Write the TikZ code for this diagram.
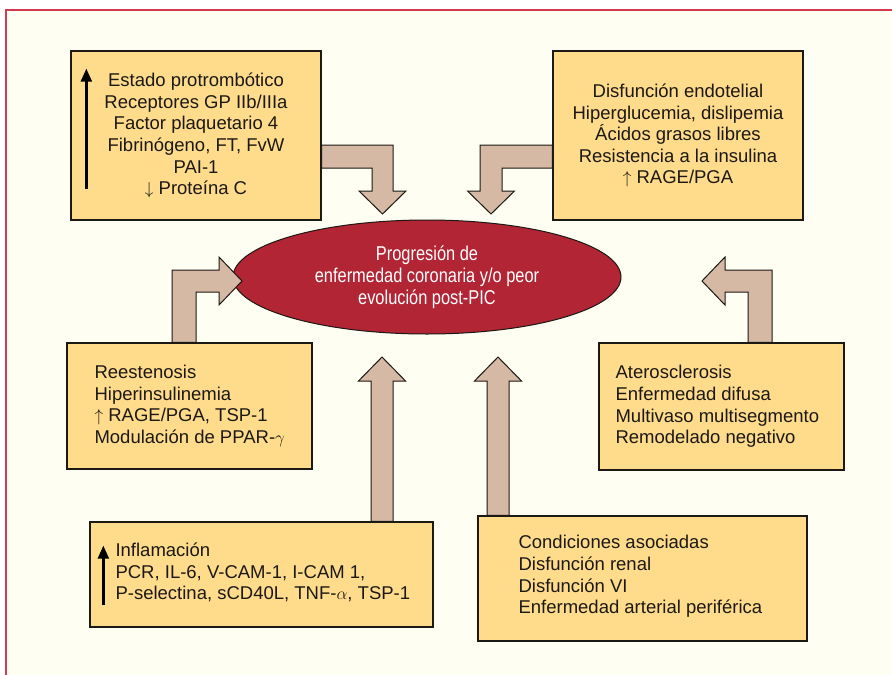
\documentclass[tikz,border=0pt]{standalone}
\usepackage{fontspec}
\setmainfont{Liberation Sans}
\newfontfamily\ellfont[FakeStretch=0.82]{Liberation Sans}
\usetikzlibrary{shapes.geometric, arrows.meta}

\definecolor{paper}{RGB}{255,254,242}
\definecolor{framered}{RGB}{214,58,78}
\definecolor{boxfill}{RGB}{255,220,140}
\definecolor{arrowfill}{RGB}{213,185,164}
\definecolor{ellfill}{RGB}{178,37,52}
\definecolor{ink}{RGB}{28,24,20}

\begin{document}
\begin{tikzpicture}[
    x=1pt, y=-1pt,
    mybox/.style={rectangle, draw=ink, fill=boxfill, line width=1.3pt, inner sep=0pt,
        align=center, text=ink, font=\fontsize{18.5}{21.6}\selectfont},
    mytext/.style={anchor=west, align=left, inner sep=0pt, text=ink,
        font=\fontsize{18.5}{21.6}\selectfont},
    myarrow/.style={draw=ink, fill=arrowfill, line width=1pt},
    myrise/.style={draw=black, line width=2.4pt, -{Triangle[length=13pt, width=11pt]}}]

    \useasboundingbox (0,0) rectangle (892,675);
    \fill[paper] (6,10) rectangle (892,675);
    \draw[framered, line width=1.5pt] (892,10) -- (6,10) -- (6,675);

    % boxes
    \node[mybox, minimum width=250pt, minimum height=169pt] (protrom) at (196,135.5)
        {Estado protrombótico\\Receptores GP IIb/IIIa\\Factor plaquetario 4\\
         Fibrinógeno, FT, FvW\\PAI-1\\$\downarrow$ Proteína C};
    \node[mybox, minimum width=250pt, minimum height=169pt] (endot) at (678,135.5)
        {Disfunción endotelial\\Hiperglucemia, dislipemia\\Ácidos grasos libres\\
         Resistencia a la insulina\\$\uparrow$ RAGE/PGA};
    \node[mybox, minimum width=245pt, minimum height=126pt] (reest) at (189.5,406) {};
    \node[mybox, minimum width=245pt, minimum height=127pt] (ateros) at (721.5,406.5) {};
    \node[mybox, minimum width=343pt, minimum height=105pt] (inflam) at (261.5,574.5) {};
    \node[mybox, minimum width=329pt, minimum height=125pt] (condic) at (642.5,578.5) {};

    \node[ellipse, draw=ink, fill=ellfill, line width=1pt, minimum width=388pt,
        minimum height=114pt, inner sep=0pt, align=center, text=white,
        font=\ellfont\fontsize{20}{22}\selectfont] (prog) at (427,277)
        {Progresión de\\enfermedad coronaria y/o peor\\evolución post-PIC};

    % texts
    \node[mytext] (reestxt) at ([xshift=28pt]reest.west)
        {Reestenosis\\Hiperinsulinemia\\$\uparrow$ RAGE/PGA, TSP-1\\Modulación de PPAR-$\gamma$};
    \node[mytext] (aterostxt) at ([xshift=17pt]ateros.west)
        {Aterosclerosis\\Enfermedad difusa\\Multivaso multisegmento\\Remodelado negativo};
    \node[mytext] (inflamtxt) at ([xshift=26pt, yshift=2pt]inflam.west)
        {Inflamación\\PCR, IL-6, V-CAM-1, I-CAM 1,\\P-selectina, sCD40L, TNF-$\alpha$, TSP-1};
    \node[mytext] (condictxt) at ([xshift=41pt, yshift=2pt]condic.west)
        {Condiciones asociadas\\Disfunción renal\\Disfunción VI\\Enfermedad arterial periférica};

    % rising arrows in the boxes
    \coordinate (protrom0) at ([xshift=16pt, yshift=32pt]protrom.south west);
    \coordinate (protrom1) at ([xshift=16pt, yshift=152pt]protrom.south west);
    \coordinate (inflam0) at ([xshift=14pt, yshift=23pt]inflam.south west);
    \coordinate (inflam1) at ([xshift=14pt, yshift=82pt]inflam.south west);
    \draw[myrise] (protrom0) -- (protrom1);
    \draw[myrise] (inflam0) -- (inflam1);

    % block arrows to the ellipse
    \draw[myarrow] (protrom.east |- 0,145) -- (393,145) -- (393,191) -- (406,191)
        -- (382.5,214) -- (359,191) -- (372,191) -- (372,168) -- (protrom.east |- 0,168) -- cycle;
    \draw[myarrow] (endot.west |- 0,145) -- (480,145) -- (480,191) -- (467.5,191)
        -- (491,214) -- (514.5,191) -- (502,191) -- (502,168) -- (endot.west |- 0,168) -- cycle;
    \draw[myarrow] (172,0 |- reest.north) -- (172,270) -- (219,270) -- (219,257)
        -- (242,281) -- (219,305) -- (219,292) -- (196,292) -- (196,0 |- reest.north) -- cycle;
    \draw[myarrow] (772,0 |- ateros.north) -- (772,270) -- (725,270) -- (725,257)
        -- (702,281) -- (725,305) -- (725,292) -- (748,292) -- (748,0 |- ateros.north) -- cycle;
    \draw[myarrow] (371,0 |- inflam.north) -- (371,381) -- (358.5,381) -- (382,357)
        -- (405.5,381) -- (393,381) -- (393,0 |- inflam.north) -- cycle;
    \draw[myarrow] (487,0 |- condic.north) -- (487,381) -- (474.5,381) -- (498,357)
        -- (521.5,381) -- (509,381) -- (509,0 |- condic.north) -- cycle;

\end{tikzpicture}
\end{document}
